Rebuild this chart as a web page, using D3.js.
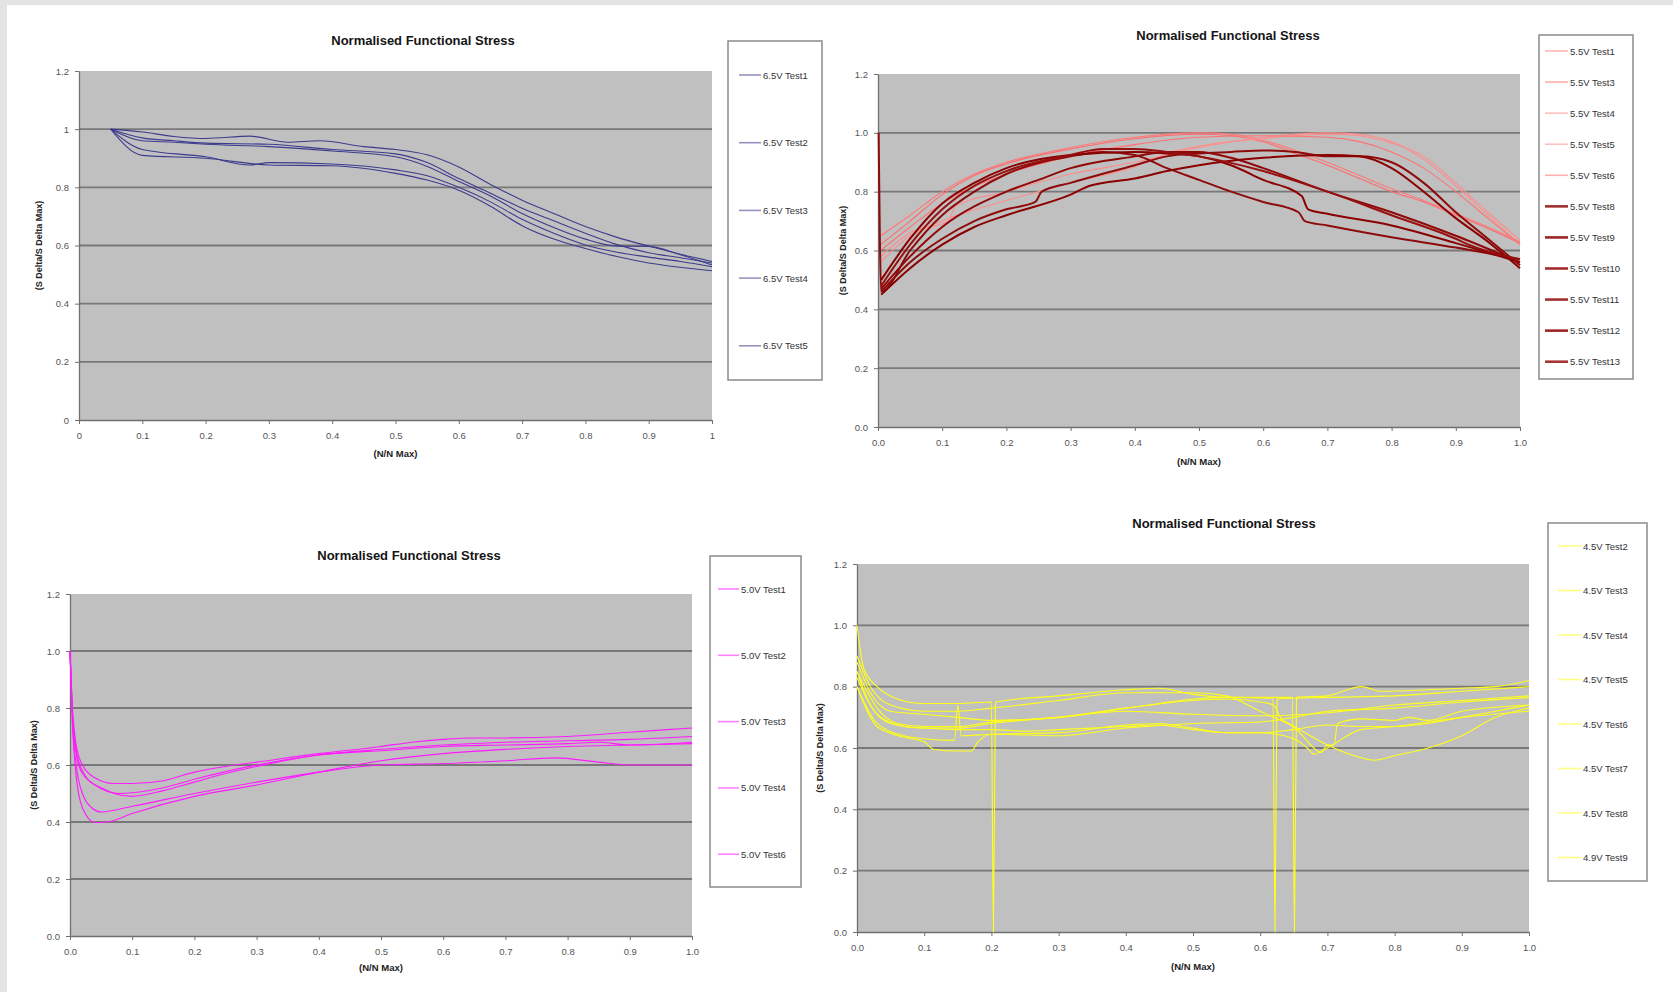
<!DOCTYPE html>
<html>
<head>
<meta charset="utf-8">
<script src="https://cdn.jsdelivr.net/npm/d3@7/dist/d3.min.js"></script>
<style>
  body { margin: 0; background: #fff; }
  svg { display: block; font-family: "Liberation Sans", Arial, sans-serif; }
</style>
</head>
<body>
<svg id="chart" width="1673" height="992"></svg>
<script>
// tick values shared by all four charts
const xTicks = [0, 0.1, 0.2, 0.3, 0.4, 0.5, 0.6, 0.7, 0.8, 0.9, 1.0];
const yTicks = [0, 0.2, 0.4, 0.6, 0.8, 1.0, 1.2];
const title = "Normalised Functional Stress";
const xTitle = "(N/N Max)";
const yTitle = "(S Delta/S Delta Max)";

// ---- 6.5V (top left) ----
const v65_test1 = [[0.05,1.0],[0.1,0.99],[0.15,0.975],[0.2,0.968],[0.27,0.976],[0.33,0.955],[0.38,0.96],[0.45,0.94],[0.5,0.93],[0.55,0.912],[0.6,0.87],[0.65,0.81],[0.7,0.756],[0.75,0.71],[0.8,0.665],[0.85,0.628],[0.9,0.598],[0.95,0.57],[1.0,0.545]];
const v65_test2 = [[0.05,1.0],[0.1,0.97],[0.15,0.96],[0.2,0.952],[0.3,0.948],[0.4,0.93],[0.5,0.915],[0.55,0.885],[0.6,0.83],[0.65,0.78],[0.7,0.728],[0.75,0.685],[0.8,0.642],[0.85,0.603],[0.9,0.575],[0.95,0.558],[1.0,0.54]];
const v65_test3 = [[0.05,1.0],[0.1,0.96],[0.15,0.955],[0.2,0.948],[0.3,0.94],[0.4,0.925],[0.5,0.905],[0.55,0.872],[0.6,0.82],[0.65,0.77],[0.7,0.71],[0.75,0.662],[0.8,0.622],[0.85,0.598],[0.9,0.597],[0.95,0.568],[1.0,0.533]];
const v65_test4 = [[0.05,1.0],[0.1,0.93],[0.2,0.905],[0.27,0.877],[0.3,0.885],[0.4,0.88],[0.5,0.86],[0.55,0.84],[0.6,0.80],[0.65,0.75],[0.7,0.69],[0.75,0.642],[0.8,0.602],[0.85,0.577],[0.9,0.56],[0.95,0.545],[1.0,0.527]];
const v65_test5 = [[0.05,1.0],[0.1,0.91],[0.2,0.9],[0.3,0.877],[0.4,0.874],[0.5,0.848],[0.55,0.825],[0.6,0.79],[0.65,0.735],[0.7,0.668],[0.75,0.622],[0.8,0.59],[0.85,0.562],[0.9,0.54],[0.95,0.525],[1.0,0.513]];

// ---- 5.5V (top right) ----
const v55_test1 = [[0.004,0.65],[0.05,0.72],[0.1,0.80],[0.15,0.86],[0.2,0.90],[0.3,0.95],[0.4,0.985],[0.5,1.0],[0.55,0.995],[0.6,0.975],[0.65,0.94],[0.7,0.9],[0.75,0.855],[0.8,0.81],[0.85,0.77],[0.9,0.725],[0.95,0.68],[1.0,0.63]];
const v55_test3 = [[0.004,0.62],[0.05,0.70],[0.1,0.79],[0.15,0.855],[0.2,0.895],[0.3,0.945],[0.4,0.98],[0.5,0.995],[0.55,0.99],[0.6,0.97],[0.65,0.93],[0.7,0.89],[0.75,0.845],[0.8,0.80],[0.85,0.765],[0.9,0.72],[0.95,0.675],[1.0,0.625]];
const v55_test4 = [[0.004,0.58],[0.05,0.66],[0.11,0.70],[0.12,0.75],[0.2,0.80],[0.3,0.86],[0.4,0.90],[0.5,0.95],[0.6,0.985],[0.7,1.0],[0.75,0.995],[0.8,0.97],[0.85,0.91],[0.9,0.82],[0.95,0.72],[1.0,0.62]];
const v55_test5 = [[0.004,0.56],[0.05,0.65],[0.1,0.70],[0.2,0.77],[0.25,0.80],[0.3,0.83],[0.4,0.885],[0.45,0.93],[0.5,0.955],[0.6,0.98],[0.7,0.995],[0.75,0.99],[0.8,0.965],[0.85,0.92],[0.9,0.83],[0.95,0.73],[1.0,0.635]];
const v55_test6 = [[0.004,0.60],[0.05,0.68],[0.1,0.76],[0.2,0.86],[0.3,0.92],[0.4,0.96],[0.5,0.985],[0.6,0.99],[0.7,0.985],[0.75,0.97],[0.8,0.935],[0.85,0.88],[0.9,0.80],[0.95,0.71],[1.0,0.62]];
const v55_test8 = [[0.001,1.0],[0.005,0.46],[0.05,0.60],[0.1,0.72],[0.15,0.80],[0.2,0.86],[0.3,0.92],[0.35,0.935],[0.4,0.925],[0.45,0.88],[0.5,0.84],[0.55,0.80],[0.6,0.765],[0.655,0.73],[0.665,0.70],[0.7,0.685],[0.8,0.645],[0.9,0.61],[1.0,0.57]];
const v55_test9 = [[0.005,0.50],[0.05,0.64],[0.1,0.76],[0.15,0.83],[0.2,0.88],[0.3,0.925],[0.4,0.935],[0.45,0.93],[0.5,0.92],[0.55,0.89],[0.6,0.84],[0.66,0.785],[0.67,0.74],[0.7,0.725],[0.8,0.685],[0.9,0.625],[1.0,0.56]];
const v55_test10 = [[0.005,0.47],[0.05,0.58],[0.1,0.68],[0.2,0.80],[0.25,0.84],[0.3,0.88],[0.4,0.92],[0.45,0.935],[0.5,0.935],[0.55,0.915],[0.6,0.88],[0.7,0.80],[0.8,0.73],[0.9,0.65],[1.0,0.56]];
const v55_test11 = [[0.005,0.46],[0.05,0.56],[0.1,0.64],[0.15,0.70],[0.2,0.74],[0.245,0.765],[0.255,0.80],[0.3,0.83],[0.4,0.89],[0.45,0.92],[0.5,0.93],[0.55,0.935],[0.6,0.94],[0.65,0.935],[0.7,0.92],[0.75,0.92],[0.8,0.90],[0.85,0.83],[0.9,0.73],[0.95,0.64],[1.0,0.55]];
const v55_test12 = [[0.005,0.45],[0.05,0.54],[0.1,0.62],[0.15,0.68],[0.2,0.72],[0.3,0.79],[0.33,0.82],[0.4,0.845],[0.45,0.87],[0.5,0.89],[0.55,0.905],[0.6,0.915],[0.7,0.925],[0.75,0.92],[0.8,0.88],[0.85,0.80],[0.9,0.71],[0.95,0.63],[1.0,0.54]];
const v55_test13 = [[0.005,0.48],[0.05,0.62],[0.1,0.74],[0.15,0.82],[0.2,0.87],[0.3,0.925],[0.35,0.945],[0.4,0.945],[0.45,0.935],[0.5,0.92],[0.6,0.87],[0.7,0.80],[0.8,0.72],[0.9,0.64],[0.92,0.62],[1.0,0.57]];

// ---- 5.0V (bottom left) ----
const v50_test1 = [[0,1.0],[0.004,0.80],[0.01,0.67],[0.02,0.60],[0.04,0.555],[0.07,0.535],[0.1,0.535],[0.15,0.545],[0.2,0.575],[0.25,0.595],[0.3,0.61],[0.4,0.64],[0.5,0.665],[0.55,0.68],[0.6,0.69],[0.65,0.695],[0.7,0.695],[0.8,0.70],[0.9,0.715],[1.0,0.73]];
const v50_test2 = [[0,1.0],[0.004,0.78],[0.01,0.65],[0.02,0.58],[0.04,0.53],[0.08,0.50],[0.15,0.52],[0.2,0.55],[0.3,0.60],[0.4,0.635],[0.5,0.655],[0.6,0.67],[0.7,0.68],[0.8,0.685],[0.9,0.69],[1.0,0.70]];
const v50_test3 = [[0,1.0],[0.004,0.77],[0.01,0.64],[0.02,0.57],[0.05,0.52],[0.1,0.49],[0.15,0.51],[0.2,0.54],[0.25,0.57],[0.3,0.595],[0.4,0.635],[0.5,0.65],[0.6,0.665],[0.7,0.67],[0.8,0.675],[0.85,0.68],[0.9,0.67],[1.0,0.68]];
const v50_test4 = [[0,1.0],[0.004,0.75],[0.01,0.6],[0.02,0.5],[0.035,0.45],[0.05,0.435],[0.1,0.455],[0.2,0.50],[0.3,0.54],[0.4,0.575],[0.5,0.60],[0.6,0.605],[0.7,0.615],[0.78,0.625],[0.85,0.61],[0.9,0.60],[1.0,0.60]];
const v50_test6 = [[0,1.0],[0.004,0.74],[0.01,0.56],[0.02,0.45],[0.04,0.398],[0.06,0.40],[0.1,0.43],[0.2,0.49],[0.3,0.53],[0.4,0.575],[0.5,0.615],[0.6,0.64],[0.7,0.655],[0.8,0.665],[0.9,0.67],[1.0,0.675]];

// ---- 4.5V (bottom right) ----
const v45_test2 = [[0,1.0],[0.01,0.86],[0.03,0.80],[0.06,0.76],[0.1,0.745],[0.15,0.745],[0.2,0.75],[0.203,0.0],[0.206,0.75],[0.3,0.77],[0.4,0.79],[0.45,0.795],[0.5,0.775],[0.55,0.765],[0.6,0.765],[0.648,0.765],[0.651,0.0],[0.654,0.765],[0.7,0.77],[0.75,0.80],[0.78,0.785],[0.85,0.79],[0.9,0.795],[0.95,0.80],[1.0,0.82]];
const v45_test3 = [[0,0.9],[0.02,0.80],[0.05,0.74],[0.1,0.72],[0.15,0.72],[0.2,0.73],[0.3,0.755],[0.4,0.78],[0.5,0.78],[0.55,0.77],[0.6,0.72],[0.65,0.67],[0.7,0.61],[0.74,0.575],[0.77,0.56],[0.8,0.575],[0.85,0.60],[0.9,0.64],[0.95,0.70],[1.0,0.73]];
const v45_test4 = [[0,0.88],[0.02,0.78],[0.05,0.72],[0.1,0.71],[0.15,0.70],[0.2,0.69],[0.3,0.70],[0.4,0.73],[0.45,0.745],[0.5,0.76],[0.55,0.765],[0.619,0.762],[0.622,0.0],[0.625,0.76],[0.7,0.765],[0.8,0.77],[0.9,0.785],[1.0,0.80]];
const v45_test5 = [[0,0.85],[0.02,0.74],[0.05,0.68],[0.1,0.665],[0.15,0.665],[0.2,0.68],[0.3,0.70],[0.4,0.72],[0.5,0.71],[0.6,0.705],[0.7,0.715],[0.8,0.74],[0.9,0.755],[1.0,0.77]];
const v45_test6 = [[0,0.8],[0.03,0.68],[0.07,0.64],[0.1,0.63],[0.145,0.625],[0.15,0.74],[0.155,0.64],[0.2,0.645],[0.3,0.65],[0.4,0.675],[0.45,0.68],[0.5,0.665],[0.55,0.65],[0.6,0.65],[0.65,0.66],[0.7,0.675],[0.75,0.67],[0.8,0.67],[0.85,0.68],[0.9,0.70],[0.95,0.72],[1.0,0.74]];
const v45_test7 = [[0,0.8],[0.03,0.67],[0.07,0.635],[0.1,0.62],[0.115,0.595],[0.15,0.59],[0.17,0.59],[0.18,0.62],[0.2,0.645],[0.3,0.64],[0.4,0.665],[0.5,0.68],[0.6,0.685],[0.65,0.70],[0.7,0.72],[0.8,0.73],[0.9,0.75],[1.0,0.765]];
const v45_test8 = [[0,0.85],[0.03,0.73],[0.06,0.68],[0.1,0.67],[0.15,0.67],[0.2,0.685],[0.3,0.70],[0.4,0.73],[0.5,0.755],[0.55,0.76],[0.6,0.75],[0.62,0.74],[0.63,0.70],[0.65,0.67],[0.68,0.60],[0.69,0.585],[0.7,0.61],[0.71,0.61],[0.715,0.68],[0.75,0.695],[0.8,0.69],[0.82,0.70],[0.85,0.69],[0.9,0.72],[1.0,0.74]];
const v49_test9 = [[0,0.83],[0.03,0.71],[0.07,0.67],[0.1,0.665],[0.15,0.66],[0.2,0.66],[0.25,0.655],[0.3,0.66],[0.4,0.67],[0.45,0.675],[0.5,0.66],[0.55,0.65],[0.6,0.65],[0.65,0.63],[0.67,0.60],[0.68,0.58],[0.7,0.60],[0.75,0.66],[0.8,0.67],[0.9,0.70],[1.0,0.72]];

const svg = d3.select("#chart");
const fmtPlain = d3.format("~g");
const fmtOne = d3.format(".1f");

// slide frame
svg.append("rect").attr("x", 0).attr("y", 0).attr("width", 1673).attr("height", 5).attr("fill", "#e4e4e4");
svg.append("rect").attr("x", 0).attr("y", 0).attr("width", 7).attr("height", 992).attr("fill", "#e4e4e4");

const panels = [
  {
    plot: { x0: 79, x1: 712, y0: 71, y1: 420 }, fmt: fmtPlain,
    titleX: 423, titleY: 45, xLabelY: 457, yLabelX: 42,
    legend: { x: 728, y: 41, w: 94, h: 339, top: 75, step: 67.7, lx0: 739, lx1: 761 },
    series: [
      { name: "6.5V Test1", data: v65_test1, color: "#3c3c8e", width: 1.1 },
      { name: "6.5V Test2", data: v65_test2, color: "#3c3c8e", width: 1.1 },
      { name: "6.5V Test3", data: v65_test3, color: "#3c3c8e", width: 1.1 },
      { name: "6.5V Test4", data: v65_test4, color: "#3c3c8e", width: 1.1 },
      { name: "6.5V Test5", data: v65_test5, color: "#3c3c8e", width: 1.1 }
    ]
  },
  {
    plot: { x0: 878, x1: 1520, y0: 74, y1: 427 }, fmt: fmtOne,
    titleX: 1228, titleY: 40, xLabelY: 465, yLabelX: 846,
    legend: { x: 1539, y: 35, w: 94, h: 344, top: 51, step: 31.07, lx0: 1545, lx1: 1568 },
    series: [
      { name: "5.5V Test1", data: v55_test1, color: "#ff7878", width: 1.1 },
      { name: "5.5V Test3", data: v55_test3, color: "#ff6a6a", width: 1.1 },
      { name: "5.5V Test4", data: v55_test4, color: "#ff8c8c", width: 1.1 },
      { name: "5.5V Test5", data: v55_test5, color: "#ff8c8c", width: 1.1 },
      { name: "5.5V Test6", data: v55_test6, color: "#ff7070", width: 1.1 },
      { name: "5.5V Test8", data: v55_test8, color: "#8e0b0b", width: 2 },
      { name: "5.5V Test9", data: v55_test9, color: "#8a0000", width: 2 },
      { name: "5.5V Test10", data: v55_test10, color: "#900808", width: 2 },
      { name: "5.5V Test11", data: v55_test11, color: "#8e0b0b", width: 2 },
      { name: "5.5V Test12", data: v55_test12, color: "#8a0000", width: 2 },
      { name: "5.5V Test13", data: v55_test13, color: "#961010", width: 2 }
    ]
  },
  {
    plot: { x0: 70, x1: 692, y0: 594, y1: 936 }, fmt: fmtOne,
    titleX: 409, titleY: 560, xLabelY: 971, yLabelX: 37,
    legend: { x: 710, y: 556, w: 91, h: 331, top: 589, step: 66.3, lx0: 718, lx1: 739 },
    series: [
      { name: "5.0V Test1", data: v50_test1, color: "#ff1aff", width: 1.1 },
      { name: "5.0V Test2", data: v50_test2, color: "#ff1aff", width: 1.1 },
      { name: "5.0V Test3", data: v50_test3, color: "#ff1aff", width: 1.1 },
      { name: "5.0V Test4", data: v50_test4, color: "#ff1aff", width: 1.1 },
      { name: "5.0V Test6", data: v50_test6, color: "#ff1aff", width: 1.1 }
    ]
  },
  {
    plot: { x0: 857, x1: 1529, y0: 564, y1: 932 }, fmt: fmtOne,
    titleX: 1224, titleY: 528, xLabelY: 970, yLabelX: 823,
    legend: { x: 1548, y: 523, w: 99, h: 358, top: 546, step: 44.5, lx0: 1558, lx1: 1581 },
    series: [
      { name: "4.5V Test2", data: v45_test2, color: "#ffff1a", width: 1.1 },
      { name: "4.5V Test3", data: v45_test3, color: "#ffff1a", width: 1.1 },
      { name: "4.5V Test4", data: v45_test4, color: "#ffff1a", width: 1.1 },
      { name: "4.5V Test5", data: v45_test5, color: "#ffff1a", width: 1.1 },
      { name: "4.5V Test6", data: v45_test6, color: "#ffff1a", width: 1.1 },
      { name: "4.5V Test7", data: v45_test7, color: "#ffff1a", width: 1.1 },
      { name: "4.5V Test8", data: v45_test8, color: "#ffff1a", width: 1.1 },
      { name: "4.9V Test9", data: v49_test9, color: "#ffff1a", width: 1.1 }
    ]
  }
];

const drawPanel = (p) => {
  const { x0, x1, y0, y1 } = p.plot;
  const x = d3.scaleLinear().domain([0, 1]).range([x0, x1]);
  const y = d3.scaleLinear().domain([0, 1.2]).range([y1, y0]);
  const g = svg.append("g");

  g.append("rect")
    .attr("x", x0).attr("y", y0)
    .attr("width", x1 - x0).attr("height", y1 - y0)
    .attr("fill", "#c0c0c0");

  // horizontal gridlines
  g.append("g").selectAll("line")
    .data(yTicks.filter(d => d > 0 && d < 1.2))
    .join("line")
    .attr("x1", x0).attr("x2", x1)
    .attr("y1", d => y(d)).attr("y2", d => y(d))
    .attr("stroke", "#787878")
    .attr("stroke-width", 1.8);

  const xAxis = d3.axisBottom(x).tickValues(xTicks).tickFormat(p.fmt).tickSize(4).tickPadding(8).tickSizeOuter(0);
  const yAxis = d3.axisLeft(y).tickValues(yTicks).tickFormat(p.fmt).tickSize(4).tickPadding(6).tickSizeOuter(0);

  [g.append("g").attr("transform", `translate(0,${y1})`).call(xAxis),
   g.append("g").attr("transform", `translate(${x0},0)`).call(yAxis)].forEach(a => {
    a.select(".domain").attr("stroke", "#707070").attr("stroke-width", 1.3);
    a.selectAll(".tick line").attr("stroke", "#707070");
    a.selectAll(".tick text")
      .attr("fill", "#555")
      .style("font-size", "9.5px")
      .style("font-family", "'Liberation Sans', Arial, sans-serif");
  });

  const line = d3.line()
    .x(d => x(d[0]))
    .y(d => y(d[1]))
    .curve(d3.curveMonotoneX);

  g.append("g").selectAll("path")
    .data(p.series)
    .join("path")
    .attr("d", d => line(d.data))
    .attr("fill", "none")
    .attr("stroke", d => d.color)
    .attr("stroke-width", d => d.width)
    .attr("stroke-linejoin", "round");

  // titles
  g.append("text")
    .attr("x", p.titleX).attr("y", p.titleY)
    .attr("text-anchor", "middle")
    .style("font-size", "13px").style("font-weight", "bold")
    .attr("fill", "#151515")
    .text(title);

  g.append("text")
    .attr("x", (x0 + x1) / 2).attr("y", p.xLabelY)
    .attr("text-anchor", "middle")
    .style("font-size", "9.5px").style("font-weight", "bold")
    .attr("fill", "#222")
    .text(xTitle);

  g.append("text")
    .attr("transform", `translate(${p.yLabelX},${(y0 + y1) / 2}) rotate(-90)`)
    .attr("text-anchor", "middle")
    .style("font-size", "9px").style("font-weight", "bold")
    .attr("fill", "#222")
    .text(yTitle);

  // legend
  const L = p.legend;
  g.append("rect")
    .attr("x", L.x).attr("y", L.y).attr("width", L.w).attr("height", L.h)
    .attr("fill", "#fff").attr("stroke", "#8a8a8a").attr("stroke-width", 1.5);

  const items = g.append("g").selectAll("g")
    .data(p.series)
    .join("g")
    .attr("transform", (d, i) => `translate(0,${L.top + i * L.step})`);

  items.append("line")
    .attr("x1", L.lx0).attr("x2", L.lx1)
    .attr("stroke", d => d.color)
    .attr("stroke-opacity", d => d.width > 1.5 ? 0.85 : 0.55)
    .attr("stroke-width", d => d.width > 1.5 ? 2.6 : 1.6);

  items.append("text")
    .attr("x", L.lx1 + 2).attr("y", 3.5)
    .style("font-size", "9.5px")
    .attr("fill", "#333")
    .text(d => d.name);
};

panels.forEach(drawPanel);
</script>
</body>
</html>
